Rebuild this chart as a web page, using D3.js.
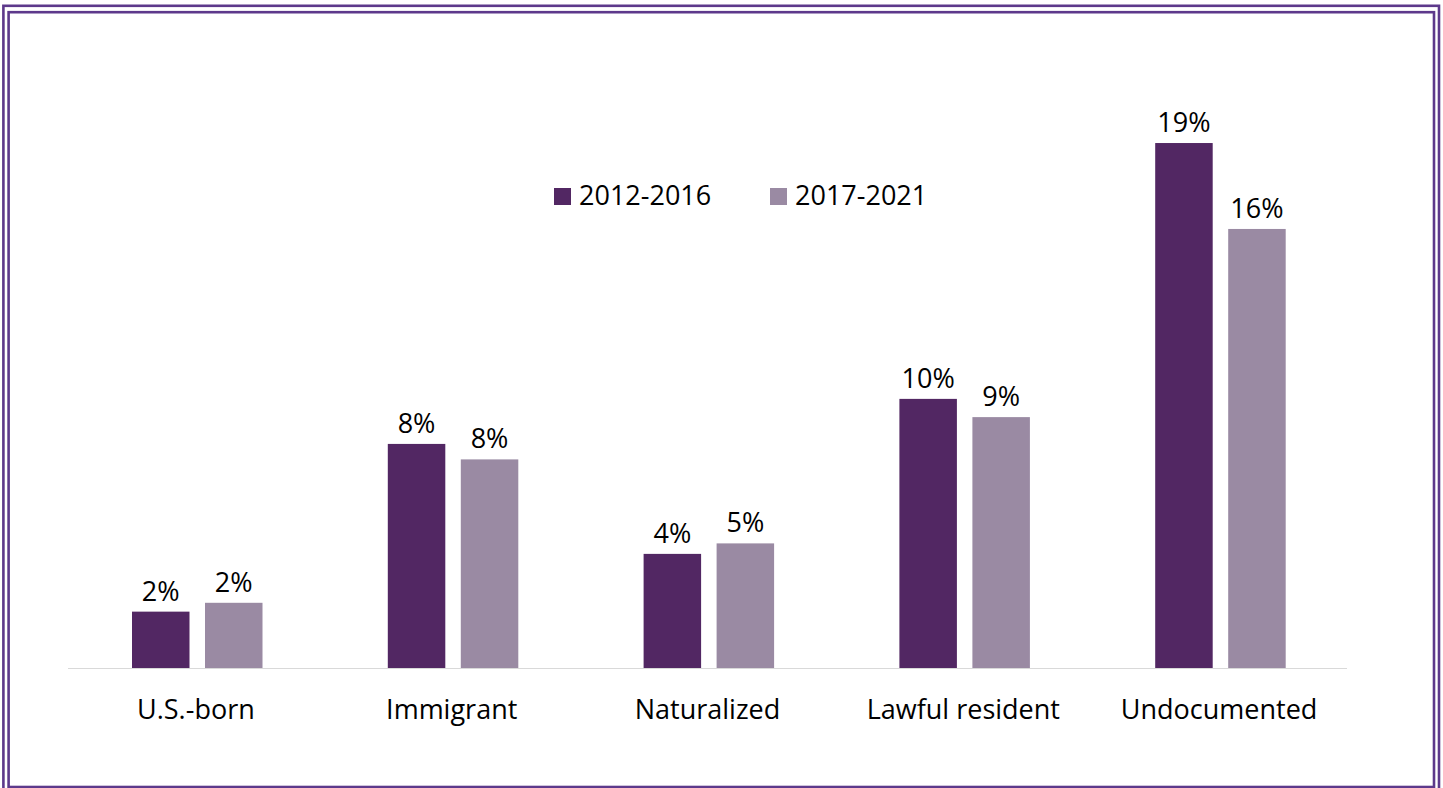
<!DOCTYPE html>
<html>
<head>
<meta charset="utf-8">
<script src="https://cdn.jsdelivr.net/npm/d3@7"></script>
<style>
  html, body { margin: 0; padding: 0; background: #fff; }
  svg { display: block; }
  text { font-family: "Open Sans", "Noto Sans", sans-serif; fill: #000; }
</style>
</head>
<body>
<svg id="chart" width="1443" height="788"></svg>
<script>
// Share of each group, two five-year periods
const categories = ["U.S.-born", "Immigrant", "Naturalized", "Lawful resident", "Undocumented"];
const seriesNames = ["2012-2016", "2017-2021"];
const values2012_2016 = [0.0204, 0.0811, 0.0413, 0.0974, 0.1900];
const values2017_2021 = [0.0236, 0.0755, 0.0451, 0.0908, 0.1589];
const seriesColors = ["#522763", "#9a8aa3"];

const seriesValues = [values2012_2016, values2017_2021];
const rows = categories.map((c, i) => ({
  category: c,
  bars: seriesNames.map((s, j) => ({ series: s, value: seriesValues[j][i] }))
}));

const svg = d3.select("#chart");
const FONT = 27;

// Double frame around the chart
const frame = svg.append("g").attr("fill", "none").attr("stroke", "#5d398b").attr("stroke-width", 2.6);
frame.append("rect").attr("x", 3.4).attr("y", 5.8).attr("width", 1439 - 3.4).attr("height", 820);
frame.append("rect").attr("x", 8.6).attr("y", 12.2).attr("width", 1434 - 8.6).attr("height", 787 - 12.2);

const baseY = 668;
const x0 = d3.scaleBand().domain(categories).range([68, 1347]).padding(0);
const groupPad = 64;
const x1 = d3.scaleBand().domain(seriesNames)
  .range([groupPad, groupPad + 130.5])
  .paddingInner(0.2123).paddingOuter(0);
const y = d3.scaleLinear().domain([0, 0.20]).range([baseY, baseY - 0.20 * 2763]);
const color = d3.scaleOrdinal().domain(seriesNames).range(seriesColors);
const fmt = d3.format(".0%");

// Baseline
svg.append("line")
  .attr("x1", x0.range()[0]).attr("x2", x0.range()[1])
  .attr("y1", baseY + 0.5).attr("y2", baseY + 0.5)
  .attr("stroke", "#d9d9d9").attr("stroke-width", 1);

const groups = svg.selectAll("g.group").data(rows).join("g")
  .attr("class", "group")
  .attr("transform", d => `translate(${x0(d.category)},0)`);

groups.selectAll("rect").data(d => d.bars).join("rect")
  .attr("x", d => x1(d.series))
  .attr("width", x1.bandwidth())
  .attr("y", d => y(d.value))
  .attr("height", d => baseY - y(d.value))
  .attr("fill", d => color(d.series));

groups.selectAll("text.val").data(d => d.bars).join("text")
  .attr("class", "val")
  .attr("x", d => x1(d.series) + x1.bandwidth() / 2)
  .attr("y", d => y(d.value) - 11)
  .attr("text-anchor", "middle")
  .attr("font-size", FONT)
  .text(d => fmt(d.value));

// Category axis labels
const xAxis = d3.axisBottom(x0).tickSize(0).tickPadding(0);
const axisG = svg.append("g").attr("transform", `translate(0,${baseY})`).call(xAxis);
axisG.select(".domain").remove();
axisG.selectAll("text")
  .attr("font-size", FONT)
  .attr("font-family", "\"Open Sans\", sans-serif")
  .attr("fill", "#000")
  .attr("dy", null)
  .attr("y", 51);

// Legend
const legendX = [554, 770];
const legend = svg.selectAll("g.legend").data(seriesNames).join("g")
  .attr("class", "legend")
  .attr("transform", (d, i) => `translate(${legendX[i]},188)`);
legend.append("rect").attr("width", 17).attr("height", 17).attr("fill", d => color(d));
legend.append("text").attr("x", 25).attr("y", 17).attr("font-size", FONT).text(d => d);
</script>
</body>
</html>
